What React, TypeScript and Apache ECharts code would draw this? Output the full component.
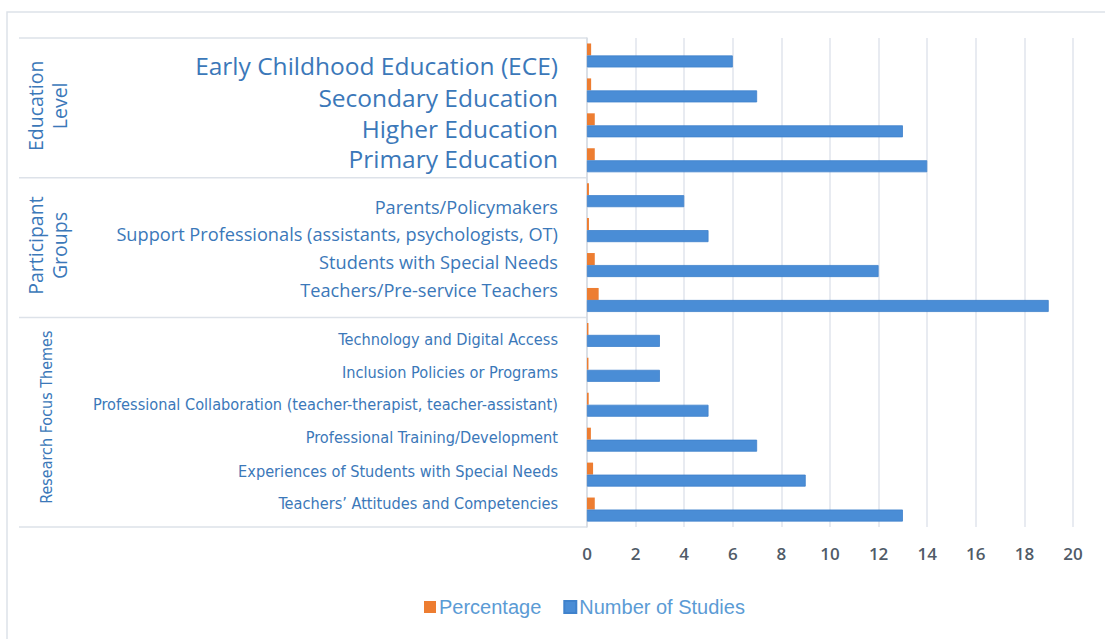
import React, { useEffect, useRef } from "react";
import * as echarts from "echarts";

const categories = [
  "Early Childhood Education (ECE)",
  "Secondary Education",
  "Higher Education",
  "Primary Education",
  "Parents/Policymakers",
  "Support Professionals (assistants, psychologists, OT)",
  "Students with Special Needs",
  "Teachers/Pre-service Teachers",
  "Technology and Digital Access",
  "Inclusion Policies or Programs",
  "Professional Collaboration (teacher-therapist, teacher-assistant)",
  "Professional Training/Development",
  "Experiences of Students with Special Needs",
  "Teachers\u2019 Attitudes and Competencies",
];
const groupOf = [0, 0, 0, 0, 1, 1, 1, 1, 2, 2, 2, 2, 2, 2];
const groupNames = ["Education\nLevel", "Participant\nGroups", "Research Focus Themes"];
const numberOfStudies = [6, 7, 13, 14, 4, 5, 12, 19, 3, 3, 5, 7, 9, 13];
const percentage = [0.17, 0.17, 0.32, 0.32, 0.08, 0.08, 0.32, 0.48, 0.06, 0.06, 0.07, 0.16, 0.25, 0.32];
const xTicks = { min: 0, max: 20, interval: 2 };

// label vertical nudges (px), style only
const labelShift = [10, 7, 3, -2, 12, 4, -3, -10, 5, 3, 0, -2, -3, -6];

const W = 1105;
const H = 639;
const GRID_LEFT = 587;
const GRID_TOP = 38;
const GRID_BOTTOM_Y = 527;
const GRID_RIGHT_X = 1073;

const NARROW = "'DejaVu Sans Condensed', 'Liberation Sans Narrow', 'Roboto Condensed', Roboto, sans-serif";

const groupFonts = [
  { fontFamily: "Open Sans", fontSize: 24.5, lineHeight: 26 },
  { fontFamily: "Open Sans", fontSize: 18.2, lineHeight: 22 },
  { fontFamily: NARROW, fontSize: 16.2, lineHeight: 22 },
];

export default function App() {
  const ref = useRef<HTMLDivElement>(null);
  useEffect(() => {
    document.body.style.margin = "0";
    const chart = echarts.init(ref.current!, null, { renderer: "svg" });
    const rowH = (GRID_BOTTOM_Y - GRID_TOP) / categories.length;
    const rich: any = {};
    categories.forEach((_, i) => {
      const f = groupFonts[groupOf[i]];
      const d = labelShift[i];
      rich["r" + i] = {
        ...f,
        color: "#3b78b9",
        padding: d >= 0 ? [2 * d, 0, 0, 0] : [0, 0, -2 * d, 0],
      };
    });
    const bounds: number[] = [0];
    for (let i = 1; i < groupOf.length; i++) if (groupOf[i] !== groupOf[i - 1]) bounds.push(i);
    bounds.push(groupOf.length);
    const lineColor = "#dde2e9";
    const graphics: any[] = [
      {
        type: "rect",
        shape: { x: 7, y: 12, width: W, height: H },
        style: { fill: "none", stroke: lineColor, lineWidth: 1.5 },
        silent: true,
      },
    ];
    bounds.forEach((b) => {
      const y = GRID_TOP + b * rowH;
      graphics.push({
        type: "line",
        shape: { x1: 19, y1: y, x2: GRID_LEFT, y2: y },
        style: { stroke: lineColor, lineWidth: 1.5 },
        silent: true,
      });
    });
    groupNames.forEach((name, g) => {
      const y0 = GRID_TOP + bounds[g] * rowH;
      const y1 = GRID_TOP + bounds[g + 1] * rowH;
      const narrow = g === 2;
      graphics.push({
        type: "text",
        x: narrow ? 46 : 47,
        y: (y0 + y1) / 2 - (narrow ? 5 : 2),
        rotation: Math.PI / 2,
        style: {
          text: name,
          fill: "#3b78b9",
          fontFamily: narrow ? NARROW : "Open Sans",
          fontSize: narrow ? 16 : 19.5,
          lineHeight: 24,
          align: "center",
          verticalAlign: "middle",
        },
        silent: true,
      });
    });

    chart.setOption({
      animation: false,
      backgroundColor: "#ffffff",
      grid: {
        left: GRID_LEFT,
        top: GRID_TOP,
        right: W - GRID_RIGHT_X,
        bottom: H - GRID_BOTTOM_Y,
        containLabel: false,
      },
      legend: {
        bottom: 22,
        left: 424,
        padding: 0,
        itemWidth: 12,
        itemHeight: 12,
        itemGap: 22,
        icon: "rect",
        textStyle: { color: "#5b9bd5", fontSize: 20, fontFamily: "Liberation Sans", padding: [0, 0, 0, -2] },
        data: ["Percentage", "Number of Studies"],
      },
      xAxis: {
        type: "value",
        min: xTicks.min,
        max: xTicks.max,
        interval: xTicks.interval,
        axisLine: { show: false },
        axisTick: { show: false },
        splitLine: { lineStyle: { color: "#e1e5ec", width: 1.5 } },
        axisLabel: { color: "#505b68", fontSize: 17, fontFamily: "Open Sans", fontWeight: 600, margin: 18 },
      },
      yAxis: {
        type: "category",
        inverse: true,
        data: categories,
        axisLine: { show: true, lineStyle: { color: "#d6dbe2", width: 1.5 } },
        axisTick: { show: false },
        splitLine: { show: false },
        axisLabel: {
          margin: 29,
          interval: 0,
          formatter: (v: string, i: number) => `{r${i}|${v}}`,
          rich,
        },
      },
      series: [
        {
          name: "Percentage",
          type: "bar",
          data: percentage,
          barWidth: 12,
          barGap: "0%",
          itemStyle: { color: "#ed7d31" },
        },
        {
          name: "Number of Studies",
          type: "bar",
          data: numberOfStudies,
          barWidth: 12,
          itemStyle: { color: "#4a8dd6", borderColor: "#3f82cc", borderWidth: 0.8 },
        },
      ],
      graphic: graphics,
    });
    return () => chart.dispose();
  }, []);
  return <div ref={ref} style={{ width: W, height: H }} />;
}
